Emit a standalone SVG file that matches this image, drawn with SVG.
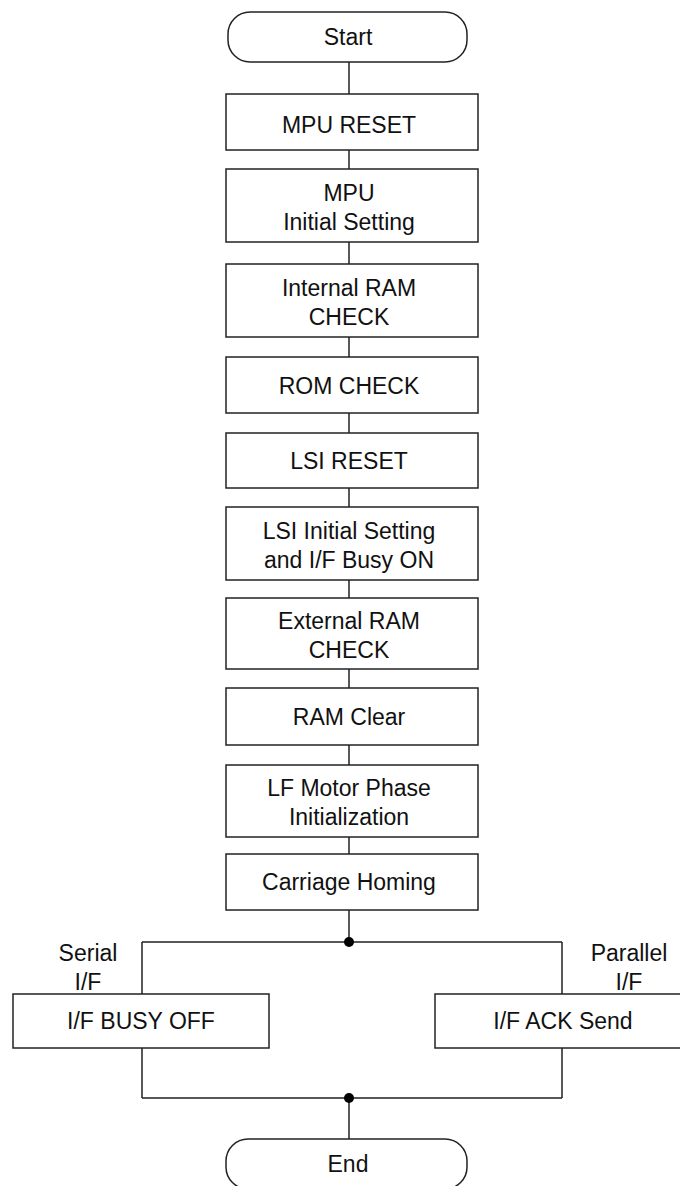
<svg xmlns="http://www.w3.org/2000/svg" width="680" height="1186" viewBox="0 0 680 1186">
<style>
.b{fill:#fff;stroke:#222;stroke-width:1.5}
.t{font-family:"Liberation Sans",Arial,sans-serif;font-size:23px;fill:#111;text-anchor:middle}
.c{fill:none;stroke:#222;stroke-width:1.5}
.d{fill:#000}
</style>
<rect width="680" height="1186" fill="#fff"/>
<g id="connectors">
<path class="c" d="M349 62V94M349 150V169M349 242V264M349 337V357M349 413V433M349 488V507M349 580V598M349 669V688M349 745V765M349 837V854M349 910V942M142 942H562M142 942V994M562 942V994M142 1048V1098M562 1048V1098M142 1098H562M349 1098V1139"/>
<circle class="d" cx="349" cy="942" r="5"/>
<circle class="d" cx="349" cy="1098" r="5"/>
</g>
<g id="start"><rect class="b" x="228" y="12" width="239" height="50" rx="22"/><text class="t" x="348" y="45">Start</text></g>
<g id="mpu-reset"><rect class="b" x="226" y="94" width="252" height="56"/><text class="t" x="349" y="133">MPU RESET</text></g>
<g id="mpu-init"><rect class="b" x="226" y="169" width="252" height="73"/><text class="t" x="349" y="201">MPU</text><text class="t" x="349" y="230">Initial Setting</text></g>
<g id="int-ram"><rect class="b" x="226" y="264" width="252" height="73"/><text class="t" x="349" y="296">Internal RAM</text><text class="t" x="349" y="325">CHECK</text></g>
<g id="rom-check"><rect class="b" x="226" y="357" width="252" height="56"/><text class="t" x="349" y="394">ROM CHECK</text></g>
<g id="lsi-reset"><rect class="b" x="226" y="433" width="252" height="55"/><text class="t" x="349" y="469">LSI RESET</text></g>
<g id="lsi-init"><rect class="b" x="226" y="507" width="252" height="73"/><text class="t" x="349" y="539">LSI Initial Setting</text><text class="t" x="349" y="568">and I/F Busy ON</text></g>
<g id="ext-ram"><rect class="b" x="226" y="598" width="252" height="71"/><text class="t" x="349" y="629">External RAM</text><text class="t" x="349" y="658">CHECK</text></g>
<g id="ram-clear"><rect class="b" x="226" y="688" width="252" height="57"/><text class="t" x="349" y="725">RAM Clear</text></g>
<g id="lf-motor"><rect class="b" x="226" y="765" width="252" height="72"/><text class="t" x="349" y="796">LF Motor Phase</text><text class="t" x="349" y="825">Initialization</text></g>
<g id="carriage"><rect class="b" x="226" y="854" width="252" height="56"/><text class="t" x="349" y="890">Carriage Homing</text></g>
<g id="serial-label"><text class="t" x="88" y="961">Serial</text><text class="t" x="88" y="990">I/F</text></g>
<g id="parallel-label"><text class="t" x="629" y="961">Parallel</text><text class="t" x="629" y="990">I/F</text></g>
<g id="busy-off"><rect class="b" x="13" y="994" width="256" height="54"/><text class="t" x="141" y="1029">I/F BUSY OFF</text></g>
<g id="ack-send"><rect class="b" x="435" y="994" width="250" height="54"/><text class="t" x="563" y="1029">I/F ACK Send</text></g>
<g id="end"><rect class="b" x="226" y="1139" width="241" height="50" rx="22"/><text class="t" x="348" y="1172">End</text></g>
</svg>
